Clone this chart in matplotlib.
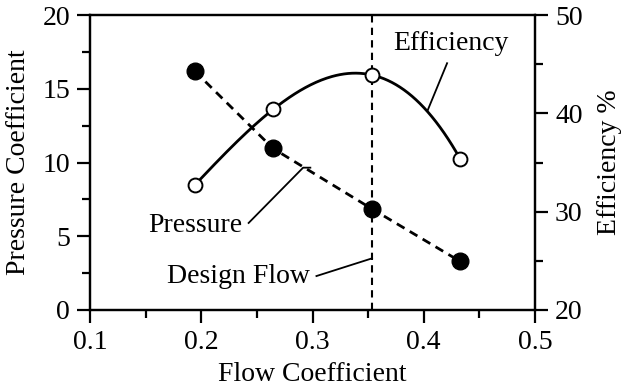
import numpy as np
import matplotlib
matplotlib.use("Agg")
import matplotlib.pyplot as plt
from matplotlib.ticker import MultipleLocator, FormatStrFormatter

plt.rcParams['font.family'] = ['Liberation Serif', 'DejaVu Serif']
plt.rcParams['font.size'] = 20

# data
flow = [0.194, 0.2645, 0.3535, 0.4326]
pressure = [16.2, 10.95, 6.85, 3.3]
efficiency = [32.7, 40.4, 43.9, 35.4]
design_flow = 0.3535

fig = plt.figure(figsize=(6.22, 3.86), dpi=100)
ax = fig.add_axes([0.145, 0.197, 0.715, 0.764])
ax2 = ax.twinx()

# pressure (left axis)
ax.plot(flow, pressure, color='black', linestyle=(0, (3.2, 2.2)), lw=2.0,
        marker='o', ms=12, mfc='black', mec='black', zorder=3)
ax.axvline(design_flow, color='black', linestyle=(0, (3.5, 2.5)), lw=1.5, zorder=2)

# efficiency (right axis), smooth curve through the points
coef = np.polyfit(flow, efficiency, 3)
xs = np.linspace(flow[0], flow[-1], 200)
ax2.plot(xs, np.polyval(coef, xs), color='black', lw=2.0, zorder=3)
ax2.plot(flow, efficiency, linestyle='none', marker='o', ms=10, mfc='white',
         mec='black', mew=1.4, zorder=4)

ax.set_xlim(0.1, 0.5)
ax.set_ylim(0, 20)
ax2.set_ylim(20, 50)

ax.xaxis.set_major_locator(MultipleLocator(0.1))
ax.xaxis.set_minor_locator(MultipleLocator(0.05))
ax.xaxis.set_major_formatter(FormatStrFormatter('%.1f'))
ax.yaxis.set_major_locator(MultipleLocator(5))
ax.yaxis.set_minor_locator(MultipleLocator(2.5))
ax2.yaxis.set_major_locator(MultipleLocator(10))
ax2.yaxis.set_minor_locator(MultipleLocator(5))

for a in (ax, ax2):
    for s in a.spines.values():
        s.set_linewidth(1.6)
    a.tick_params(which='major', direction='out', length=9.5, width=1.6, pad=5)
    a.tick_params(which='minor', direction='out', length=5.5, width=1.6)
ax.tick_params(axis='x', which='both', top=False)

ax.set_xlabel('Flow Coefficient', labelpad=5)
ax.set_ylabel('Pressure Coefficient', labelpad=8)
ax2.set_ylabel('Efficiency %', labelpad=10)

# labels with leader lines
ax2.text(0.4245, 47.1, 'Efficiency', ha='center', va='center')
ax2.plot([0.4035, 0.421], [40.3, 45.1], color='black', lw=1.3)

ax.text(0.2366, 5.75, 'Pressure', ha='right', va='center')
ax.plot([0.2425, 0.2915, 0.298], [5.9, 9.65, 9.65], color='black', lw=1.3)

ax.text(0.2978, 2.25, 'Design Flow', ha='right', va='center')
ax.plot([0.3035, design_flow], [2.3, 3.5], color='black', lw=1.3)

fig.savefig('out.png', dpi=100)
